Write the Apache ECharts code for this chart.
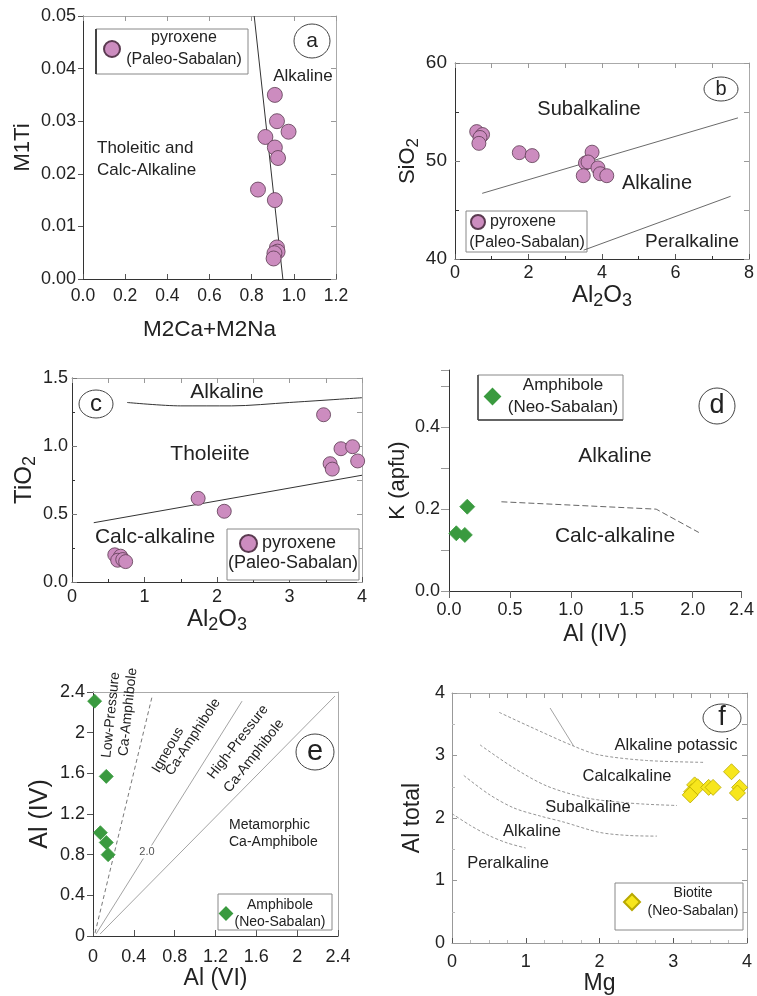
<!DOCTYPE html>
<html><head><meta charset="utf-8">
<script src="https://cdn.jsdelivr.net/npm/echarts@6/dist/echarts.min.js"></script>
<style>html,body{margin:0;padding:0;background:#fff}#c{width:757px;height:996px}</style>
</head><body><div id="c"></div>
<script>
// ---------- data ----------
const aPyroxene = [[0.91,0.035],[0.92,0.030],[0.975,0.028],[0.865,0.027],[0.91,0.025],[0.925,0.023],[0.83,0.017],[0.91,0.015],[0.92,0.006],[0.923,0.0052],[0.908,0.0049],[0.904,0.0039]];
const aBoundary = [[0.812,0.05],[0.948,0]];
const bPyroxene = [[0.59,53.0],[0.75,52.7],[0.68,52.4],[0.65,51.8],[1.75,50.85],[2.10,50.55],[3.73,50.9],[3.55,49.8],[3.62,49.9],[3.89,49.3],[3.49,48.5],[3.95,48.7],[4.13,48.5]];
const bLineSubalkaline = [[0.74,46.7],[7.7,54.4]];
const bLinePeralkaline = [[3.5,40.9],[7.5,46.4]];
const cPyroxene = [[3.47,1.23],[3.71,0.98],[3.87,0.995],[3.94,0.89],[3.56,0.87],[3.59,0.83],[1.74,0.615],[2.10,0.52],[0.59,0.20],[0.67,0.19],[0.63,0.16],[0.70,0.165],[0.74,0.15]];
const cLineAlkaline = [[0.76,1.32],[1.5,1.295],[2.2,1.295],[3.0,1.32],[4.0,1.355]];
const cLineCalc = [[0.3,0.436],[4.0,0.785]];
const dAmphibole = [[0.15,0.206],[0.06,0.141],[0.13,0.137]];
const dLine = [[0.43,0.218],[1.7,0.2],[2.05,0.143]];
const eAmphibole = [[0.016,2.31],[0.13,1.57],[0.072,1.016],[0.13,0.92],[0.148,0.80]];
const eLowPressure = [[0.02,0.03],[0.58,2.36]];
const eIgneous = [[0.03,0.02],[1.46,2.31]];
const eHighPressure = [[0.07,0.02],[2.37,2.36]];
const fBiotite = [[3.79,2.74],[3.90,2.49],[3.87,2.40],[3.29,2.53],[3.25,2.42],[3.23,2.37],[3.33,2.50],[3.48,2.49],[3.54,2.49]];
const fPeralkaline = [[0,2.07],[0.25,1.88],[0.5,1.72],[0.75,1.6],[1.0,1.52]];
const fAlkaline = [[0.16,2.68],[0.5,2.38],[0.84,2.16],[1.2,2.03],[1.5,1.94],[2.0,1.77],[2.4,1.72],[2.78,1.71]];
const fSubalkaline = [[0.38,3.17],[0.84,2.8],[1.29,2.51],[1.83,2.32],[2.3,2.25],[2.64,2.22],[3.05,2.2]];
const fCalcalkaline = [[0.64,3.69],[1.06,3.46],[1.65,3.15],[1.99,3.01],[2.64,2.92],[3.43,2.89]];
const fShort = [[1.33,3.76],[1.65,3.15]];

// ---------- styling ----------
const FF = '"Liberation Sans", Arial, sans-serif';
const PINK = '#cc8cbf', GREEN = '#3a9a3f', YELLOW = '#f7e61c';

const chart = echarts.init(document.getElementById('c'), null, {renderer:'canvas'});

const grids = [
  {left:83, top:16, width:253, height:263},   // a
  {left:455, top:63, width:294, height:196},  // b
  {left:72, top:378, width:290, height:204},  // c
  {left:449, top:370, width:307, height:221}, // d
  {left:93, top:692, width:245, height:244},  // e
  {left:452, top:693, width:295, height:250}  // f
];

function lab(size, margin, fmt){ const o={fontSize:size, fontFamily:FF, color:'#222', margin:margin}; if(fmt) o.formatter=fmt; return o; }
function sub(main, subs){ return {fontFamily:FF, color:'#222', rich:{m:{fontSize:main, fontFamily:FF, color:'#222'}, s:{fontSize:subs, fontFamily:FF, color:'#222', padding:[12,0,0,0]}}}; }
const nameStyle = (size)=>({fontSize:size, fontFamily:FF, color:'#222'});

function mainX(gi, min, max, interval, o){
  return Object.assign({type:'value', gridIndex:gi, min, max, interval, position:'bottom',
    splitLine:{show:false}, axisLine:{onZero:false, lineStyle:{color:'#333', width:1}},
    axisTick:{inside:true, length:5, lineStyle:{color:'#555'}}, nameLocation:'middle'}, o);
}
function mainY(gi, min, max, interval, o){
  return Object.assign({type:'value', gridIndex:gi, min, max, interval, position:'left',
    splitLine:{show:false}, axisLine:{onZero:false, lineStyle:{color:'#333', width:1}},
    axisTick:{inside:false, length:5, lineStyle:{color:'#555'}}, nameLocation:'middle'}, o);
}
function mirrorX(gi, min, max, interval, ticks){
  return {type:'value', gridIndex:gi, min, max, interval, position:'top', splitLine:{show:false},
    axisLine:{onZero:false, lineStyle:{color:'#aaa', width:1}}, axisLabel:{show:false},
    axisTick:{show:ticks, inside:true, length:5, lineStyle:{color:'#999'}}};
}
function mirrorY(gi, min, max, interval, ticks){
  return {type:'value', gridIndex:gi, min, max, interval, position:'right', splitLine:{show:false},
    axisLine:{onZero:false, lineStyle:{color:'#aaa', width:1}}, axisLabel:{show:false},
    axisTick:{show:ticks, inside:true, length:5, lineStyle:{color:'#999'}}};
}

const xAxis = [
  mainX(0, 0, 1.2, 0.2, {axisLabel:lab(17.5, 8, v=>v.toFixed(1)), name:'M2Ca+M2Na', nameGap:39, nameTextStyle:nameStyle(22.5)}),
  mainX(1, 0, 8, 2, {axisLabel:lab(18, 5), name:'{m|Al}{s|2}{m|O}{s|3}', nameGap:14, nameTextStyle:sub(24,18), minorTick:{show:true, splitNumber:2, length:3}}),
  mainX(2, 0, 4, 1, {axisLabel:lab(18, 6), name:'{m|Al}{s|2}{m|O}{s|3}', nameGap:11, nameTextStyle:sub(24,18), minorTick:{show:true, splitNumber:2, length:3}}),
  mainX(3, 0, 2.4, 0.5, {axisLabel:lab(18, 10, v=>v.toFixed(1)), axisTick:{inside:false, length:7, lineStyle:{color:'#666'}}, name:'Al (IV)', nameGap:32, nameTextStyle:nameStyle(23)}),
  mainX(4, 0, 2.4, 0.4, {axisLabel:lab(18, 12), axisTick:{inside:true, length:6, lineStyle:{color:'#555'}}, name:'Al (VI)', nameGap:28, nameTextStyle:nameStyle(23)}),
  mainX(5, 0, 4, 1, {axisLabel:lab(18, 10), axisLine:{onZero:false, lineStyle:{color:'#999'}}, minorTick:{show:true, splitNumber:4, length:3, lineStyle:{color:'#bbb'}}, name:'Mg', nameGap:25, nameTextStyle:nameStyle(23)}),
  mirrorX(0, 0, 1.2, 0.2, true),
  mirrorX(1, 0, 8, 1, true),
  mirrorX(2, 0, 4, 0.5, true),
  mirrorX(4, 0, 2.4, 0.4, false),
  mirrorX(5, 0, 4, 0.25, true)
];
const yAxis = [
  mainY(0, 0, 0.05, 0.01, {axisLabel:lab(18, 7, v=>v.toFixed(2)), name:'M1Ti', nameGap:49, nameTextStyle:nameStyle(22)}),
  mainY(1, 40, 60, 10, {axisLabel:lab(19, 8), axisTick:{inside:true, length:5, lineStyle:{color:'#777'}}, minorTick:{show:true, splitNumber:2, length:4}, name:'{m|SiO}{s|2}', nameGap:20, nameTextStyle:sub(22,17)}),
  mainY(2, 0, 1.5, 0.5, {axisLabel:lab(18, 4, v=>v.toFixed(1)), axisTick:{inside:true, length:5, lineStyle:{color:'#777'}}, minorTick:{show:true, splitNumber:2, length:3}, name:'{m|TiO}{s|2}', nameGap:20, nameTextStyle:sub(24,18)}),
  mainY(3, 0, 0.54, 0.1, {axisLabel:lab(18, 9, v=>(Math.round(v*10)%2===0 ? v.toFixed(1) : '')), axisTick:{inside:false, length:8, lineStyle:{color:'#999'}}, name:'K (apfu)', nameGap:40, nameTextStyle:nameStyle(22)}),
  mainY(4, 0, 2.4, 0.4, {axisLabel:lab(18, 8), axisTick:{inside:false, length:6, lineStyle:{color:'#555'}}, name:'Al (IV)', nameGap:40, nameTextStyle:nameStyle(25)}),
  mainY(5, 0, 4, 1, {axisLabel:lab(18, 7), axisLine:{onZero:false, lineStyle:{color:'#999'}}, axisTick:{inside:true, length:5, lineStyle:{color:'#999'}}, minorTick:{show:true, splitNumber:2, length:3, lineStyle:{color:'#bbb'}}, name:'Al total', nameGap:28, nameTextStyle:nameStyle(23)}),
  mirrorY(0, 0, 0.05, 0.01, true),
  mirrorY(1, 40, 60, 5, true),
  mirrorY(2, 0, 1.5, 0.25, true),
  mirrorY(4, 0, 2.4, 0.4, false),
  mirrorY(5, 0, 4, 0.5, true)
];

function scatter(name, xi, data, symbol, size, color, border){
  return {name, type:'scatter', xAxisIndex:xi, yAxisIndex:xi, data, symbol, symbolSize:size,
    itemStyle:{color, borderColor:border, borderWidth:0.8, opacity:1}, z:5, silent:true};
}
function bline(xi, data, color, width, type){
  return {type:'line', xAxisIndex:xi, yAxisIndex:xi, data, symbol:'none', silent:true, z:3,
    lineStyle:{color, width, type:type||'solid'}, smooth: data.length>2 ? 0.3 : false};
}

const series = [
  bline(0, aBoundary, '#333', 1),
  scatter('pyroxene-a', 0, aPyroxene, 'circle', 15, PINK, '#5a3a50'),
  bline(1, bLineSubalkaline, '#444', 0.8),
  bline(1, bLinePeralkaline, '#444', 0.8),
  scatter('pyroxene-b', 1, bPyroxene, 'circle', 14, PINK, '#5a3a50'),
  bline(2, cLineAlkaline, '#333', 1),
  bline(2, cLineCalc, '#333', 1),
  scatter('pyroxene-c', 2, cPyroxene, 'circle', 14, PINK, '#5a3a50'),
  {type:'line', xAxisIndex:3, yAxisIndex:3, data:dLine, symbol:'none', silent:true, z:3, lineStyle:{color:'#666', width:1, type:[6,3]}},
  scatter('amphibole-d', 3, dAmphibole, 'diamond', 15, GREEN, GREEN),
  bline(4, eLowPressure, '#555', 0.8, [4,3]),
  bline(4, eIgneous, '#999', 0.9),
  bline(4, eHighPressure, '#999', 0.9),
  scatter('amphibole-e', 4, eAmphibole, 'diamond', 14, GREEN, GREEN),
  bline(5, fPeralkaline, '#888', 0.9, [3,2]),
  bline(5, fAlkaline, '#888', 0.9, [3,2]),
  bline(5, fSubalkaline, '#888', 0.9, [3,2]),
  bline(5, fCalcalkaline, '#888', 0.9, [3,2]),
  bline(5, fShort, '#999', 0.9),
  scatter('biotite-f', 5, fBiotite, 'diamond', 16, YELLOW, '#b8a800')
];

function legend2(name, left, top, size, icon, line1, line2, fs, width, lh){
  return {data:[name], left, top, padding:0, itemWidth:size, itemHeight:size, icon, selectedMode:false,
    formatter: ()=> line2 ? '{t|'+line1+'}\n{t|'+line2+'}' : '{t|'+line1+'}',
    textStyle:{fontFamily:FF, color:'#222', rich:{t:{fontSize:fs, fontFamily:FF, color:'#222', width, align: line2?'center':'left', lineHeight:lh}}}};
}
const legend = [
  legend2('pyroxene-a', 103, 30, 16, 'circle', 'pyroxene', '(Paleo-Sabalan)', 16, 118, 22),
  legend2('pyroxene-b', 470, 214, 14, 'circle', 'pyroxene', null, 16, 80, 18),
  legend2('pyroxene-c', 239, 534, 17, 'circle', 'pyroxene', null, 18, 90, 20),
  legend2('amphibole-d', 484, 377, 15, 'diamond', 'Amphibole', '(Neo-Sabalan)', 17, 116, 22),
  legend2('amphibole-e', 219, 898, 12, 'diamond', 'Amphibole', '(Neo-Sabalan)', 14, 86, 17),
  legend2('biotite-f', 623, 886, 16, 'diamond', 'Biotite', '(Neo-Sabalan)', 14, 96, 18)
];

// ---------- annotations ----------
function T(x, y, s, size, o){
  o = o||{};
  return {type:'text', x, y, rotation:o.rot||0, z:10, silent:true,
    style:{text:s, x:0, y:0, font:size+'px '+FF, fill:o.color||'#222', textAlign:o.align||'center', textVerticalAlign:'middle', align:o.align||'center', verticalAlign:'middle',
      backgroundColor:o.bg, padding:o.pad}};
}
function E(cx, cy, rx, ry, letter, fs){
  return [{type:'ellipse', shape:{cx, cy, rx, ry}, style:{fill:'#fff', stroke:'#444', lineWidth:1}, z:9, silent:true},
          T(cx, cy, letter, fs)];
}
function R(x, y, w, h){
  return {type:'rect', shape:{x, y, width:w, height:h}, style:{fill:'#fff', stroke:'#888', lineWidth:1}, z:1, silent:true};
}
function L(x1, y1, x2, y2, w){
  return {type:'line', shape:{x1, y1, x2, y2}, style:{stroke:'#444', lineWidth:w||1.5}, z:2, silent:true};
}
const D = Math.PI/180;
const graphic = [
  R(96,29,152,45), R(466,211,121,41), R(227,529,132,51), R(478,375,145,45), R(218,894,114,36), R(615,883,128,47),
  L(96,29,96,74,2), L(478,375,478,420,1.5), L(478,420,623,420,1.5),
  ...E(312,41,18,17,'a',21), ...E(721,89,17,12,'b',20), ...E(96,404,17,14,'c',24),
  ...E(717,406,18,18,'d',27), ...E(315,752,19,18,'e',29), ...E(722,718,19,14,'f',27),
  // a
  T(303,76,'Alkaline',17), T(97,148,'Tholeitic and',17,{align:'left'}), T(97,170,'Calc-Alkaline',17,{align:'left'}),
  // b
  T(589,109,'Subalkaline',20), T(657,183,'Alkaline',20), T(692,242,'Peralkaline',19), T(527,243,'(Paleo-Sabalan)',16),
  // c
  T(227,392,'Alkaline',21), T(210,454,'Tholeiite',21), T(155,537,'Calc-alkaline',21), T(293,563,'(Paleo-Sabalan)',18),
  // d
  T(615,456,'Alkaline',21), T(615,536,'Calc-alkaline',21),
  // e
  T(111,715,'Low-Pressure',14,{rot:84*D}), T(128,712,'Ca-Amphibole',14,{rot:84*D}),
  T(168,750,'Igneous',14,{rot:60*D}), T(193,737,'Ca-Amphibole',14,{rot:57*D}),
  T(238,742,'High-Pressure',14,{rot:52*D}), T(254,756,'Ca-Amphibole',14,{rot:52*D}),
  T(229,825,'Metamorphic',14,{align:'left'}), T(229,842,'Ca-Amphibole',14,{align:'left'}),
  T(147,852,'2.0',11,{bg:'#fff', pad:[1,1], color:'#555'}),
  // f
  T(676,745,'Alkaline potassic',16.5), T(627,776,'Calcalkaline',16.5), T(588,807,'Subalkaline',16.5),
  T(532,831,'Alkaline',16.5), T(508,863,'Peralkaline',16.5)
];

chart.setOption({
  animation:false, backgroundColor:'#fff',
  grid: grids, xAxis, yAxis, series, legend, graphic
});
</script></body></html>
